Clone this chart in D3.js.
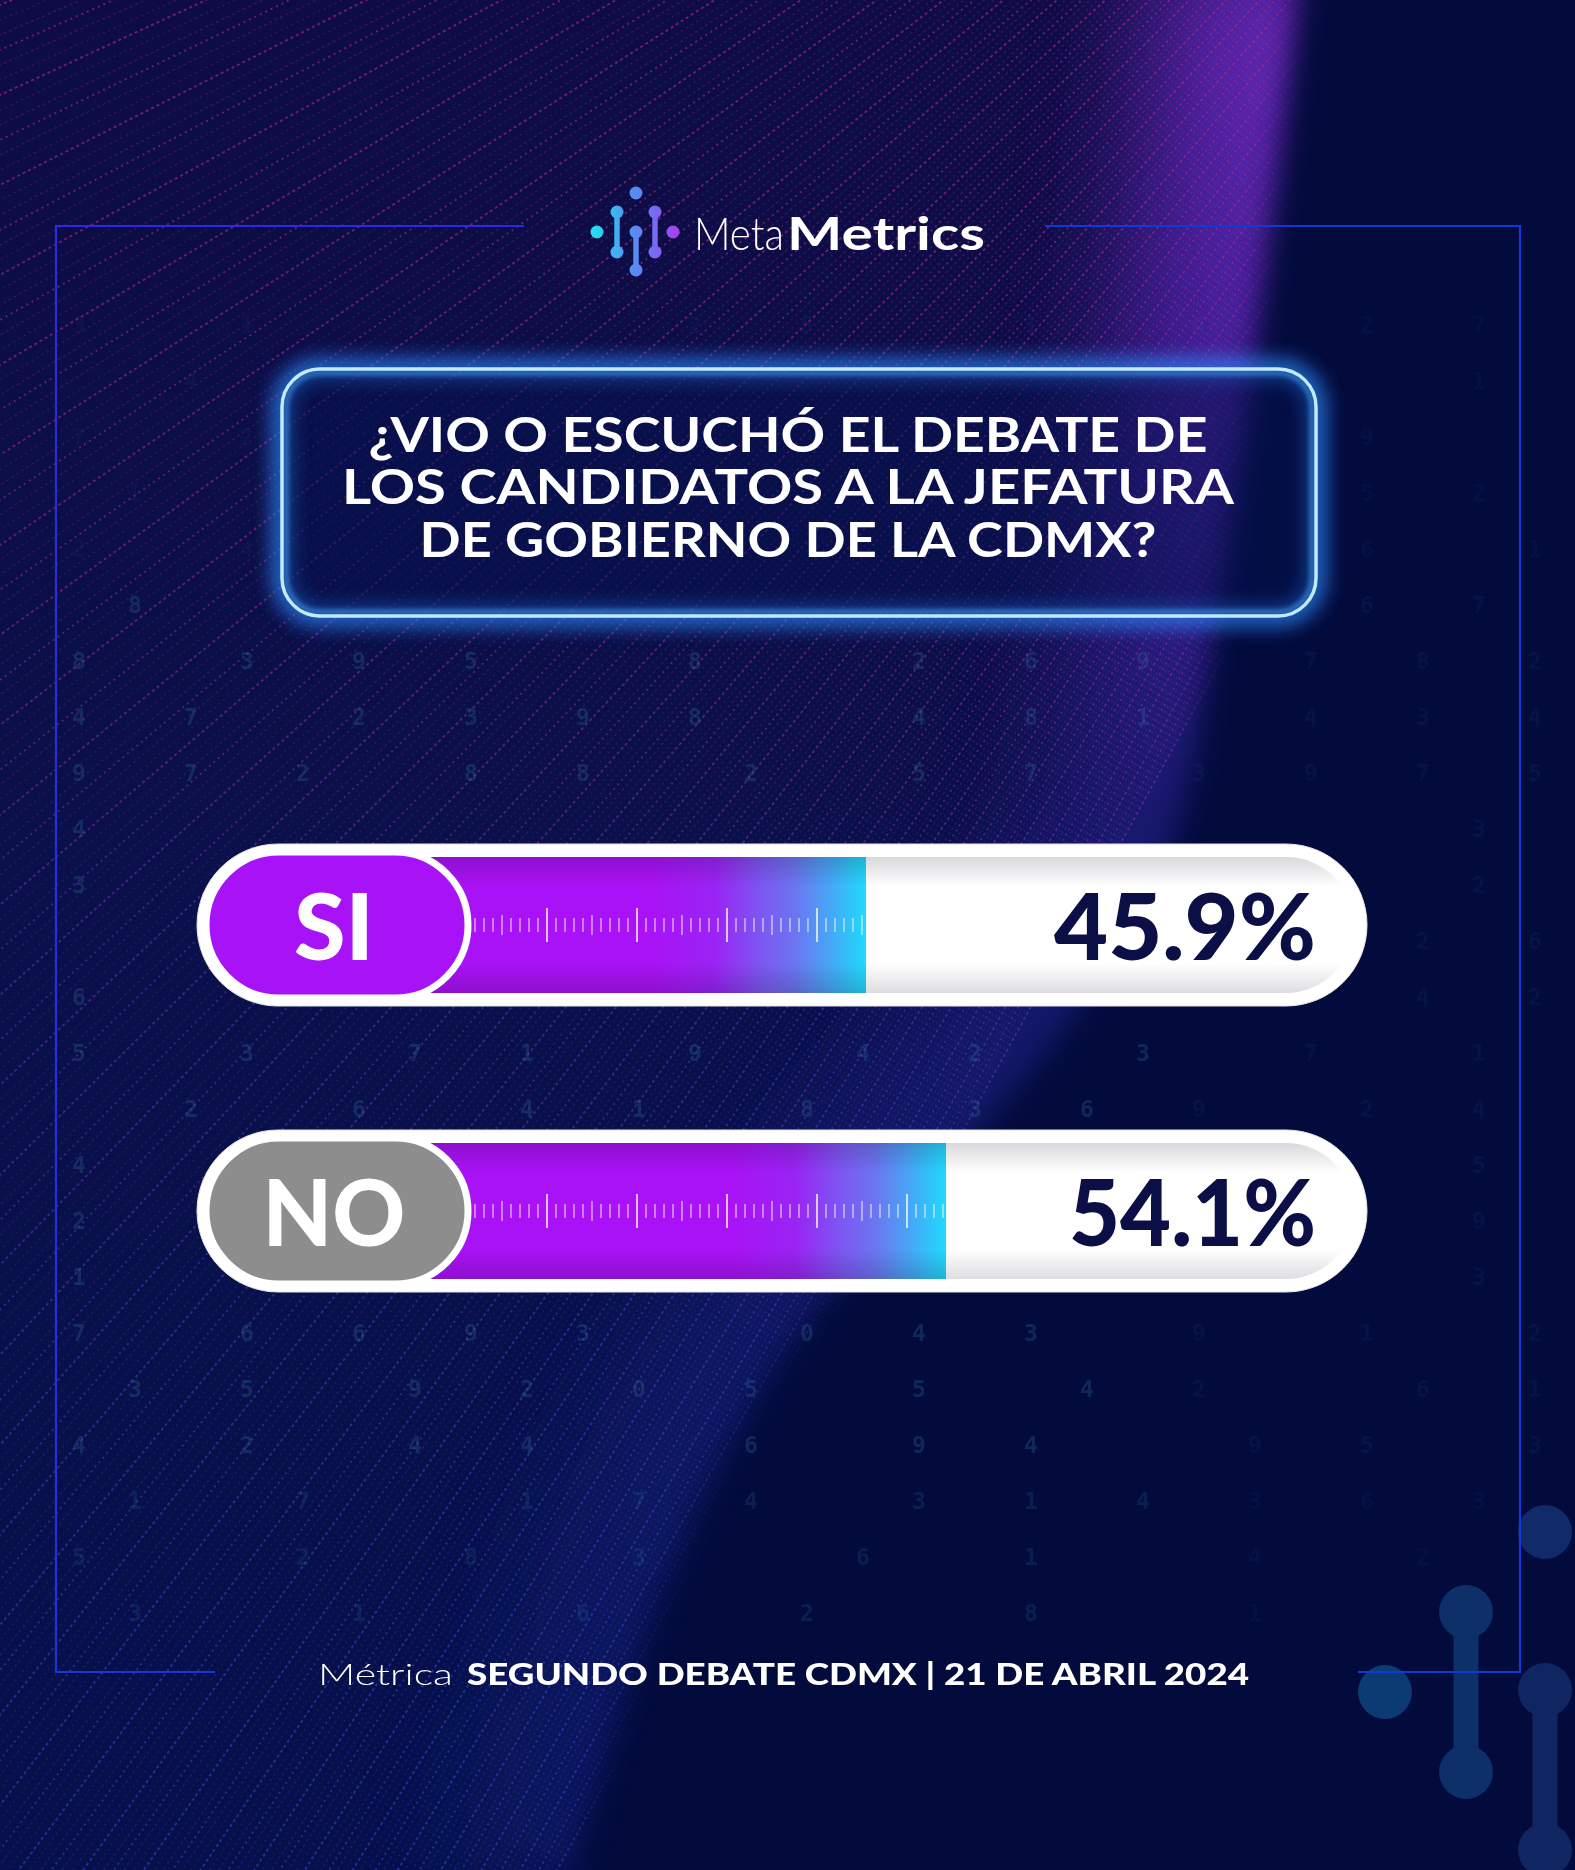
<!DOCTYPE html>
<html><head><meta charset="utf-8">
<script src="https://cdn.jsdelivr.net/npm/d3@7"></script>
<style>html,body{margin:0;padding:0;background:#030b3e;}svg{display:block}</style>
</head><body>
<svg id="c" width="1575" height="1870"></svg>
<script>
// ---------------- DATA ----------------
const categories = ["SI", "NO"];
const values = [45.9, 54.1];
const valueLabels = ["45.9%", "54.1%"];
const titleLines = ["¿VIO O ESCUCHÓ EL DEBATE DE", "LOS CANDIDATOS A LA JEFATURA", "DE GOBIERNO DE LA CDMX?"];
const brandLight = "Meta", brandBold = "Metrics";
const footerLight = "Métrica", footerBold = "SEGUNDO DEBATE CDMX | 21 DE ABRIL 2024";
const bgDigits = [
  " 3  1  7    2 5   1  4  2 7 ",
  "   4   2  9   1    6 3    1 ",
  " 7  2    5 1   8 2   4  9   ",
  "  1   6  3    2  4   1  5 2 ",
  " 2  4  7 8  3   1  5    6  1",
  "  8   7  9  6  9   4  8 6 7 ",
  " 8  3 9 5   8   2 6 9  7 8 2",
  " 4 7  2 3 9 8   4 8 1  4 3 4",
  " 9 7 2  8 8  2  5 7  3 9 7 5",
  " 4   3 9  4 2  8  5  1  4 3 ",
  " 3 2 8  6  7 4  9 1   5 3 2 ",
  "   5 4  7 3  7   2 5 5 2 2 6",
  " 6 8 8 4   9 2 2 7 6 4 9 4 2",
  " 5  3  7 1  9  4 2  3  7  1 ",
  "   2  6  4 1  8  3 6 9  2 4 ",
  " 4 5   1 6  3 8 7 4  1  3 5 ",
  " 2  3 3 6  3  7 9 5 8 2 0 9 ",
  " 1 6  5 1 7  8 3 6 8 3 9  3 ",
  " 7  6 6 9 3   0 4 3  9  1  2",
  "  3 5  9 2 0 5  5  4 2   6 1",
  " 4  2  4 4   6  9 4   9 5  3",
  "  1  7   1 7 4  3 1 4 3 6 3 ",
  " 5   2  8  3   6  1   4  2  ",
  "  3   1   6   2   8   1   4 "
];

// ---------------- SETUP ----------------
const W = 1575, H = 1870;
const svg = d3.select("#c");
const defs = svg.append("defs");
const FONT = "Lato, 'Open Sans', 'DejaVu Sans', sans-serif";

function linGrad(id, x1, y1, x2, y2, stops, units) {
  const g = defs.append("linearGradient").attr("id", id)
    .attr("x1", x1).attr("y1", y1).attr("x2", x2).attr("y2", y2);
  if (units) g.attr("gradientUnits", units);
  stops.forEach(s => g.append("stop").attr("offset", s[0]).attr("stop-color", s[1]).attr("stop-opacity", s[2] == null ? 1 : s[2]));
  return g;
}
linGrad("bgLeft", 0, 0, 0, 1, [[0, "#0d0c46"], [0.45, "#0a1049"], [1, "#07104b"]]);
linGrad("streak", 0, 0, 0, H, [[0, "#c0267f"], [0.3, "#a02496"], [0.55, "#5a2fb8"], [1, "#2a48d0"]], "userSpaceOnUse");
linGrad("edgeGlow", 0, 0, 0, H, [[0, "#8c35f0", 0.95], [0.22, "#6b2ee0", 0.75], [0.42, "#4233d4", 0.4], [0.7, "#2a3ad0", 0.26], [1, "#1e3ccf", 0.2]], "userSpaceOnUse");
linGrad("track", 0, 0, 0, 1, [[0, "#d9d9dd"], [0.22, "#ffffff"], [0.78, "#ffffff"], [1, "#dedee2"]]);
linGrad("barShade", 0, 0, 0, 1, [[0, "#000", 0.16], [0.22, "#000", 0], [0.78, "#000", 0], [1, "#000", 0.16]]);
linGrad("icon", 590, 0, 680, 0, [[0, "#22e3f2"], [0.45, "#4f93f2"], [0.75, "#7c66f1"], [1, "#a93cf0"]], "userSpaceOnUse");
linGrad("frameL", 0, 225, 0, 1672, [[0, "#2a2be0"], [1, "#1b36d8"]], "userSpaceOnUse");

const fBlur = defs.append("filter").attr("id", "blur40").attr("x", "-50%").attr("y", "-50%").attr("width", "200%").attr("height", "200%");
fBlur.append("feGaussianBlur").attr("stdDeviation", 60);
const fGlow = defs.append("filter").attr("id", "glow").attr("x", "-20%").attr("y", "-40%").attr("width", "140%").attr("height", "180%");
fGlow.append("feGaussianBlur").attr("stdDeviation", 10);
const fSoft = defs.append("filter").attr("id", "soft").attr("x", "-20%").attr("y", "-40%").attr("width", "140%").attr("height", "180%");
fSoft.append("feGaussianBlur").attr("stdDeviation", 2.2);
const fMask = defs.append("filter").attr("id", "maskBlur").attr("x", "-10%").attr("y", "-10%").attr("width", "120%").attr("height", "120%");
fMask.append("feGaussianBlur").attr("stdDeviation", 14);

// ---------------- BACKGROUND ----------------
svg.append("rect").attr("width", W).attr("height", H).attr("fill", "#030b3d");
const wavePath = "M-40,-40 L1300,-40 L1298,0 C1268,250 1238,500 1190,780 C1140,1000 915,1190 812,1315 C712,1440 630,1650 575,1870 L560,1910 L-40,1910 Z";
const mask = defs.append("mask").attr("id", "wave").attr("maskUnits", "userSpaceOnUse")
  .attr("x", 0).attr("y", 0).attr("width", W).attr("height", H);
mask.append("path").attr("d", wavePath).attr("fill", "#fff").attr("filter", "url(#maskBlur)");
const bg = svg.append("g").attr("mask", "url(#wave)");
bg.append("rect").attr("width", W).attr("height", H).attr("fill", "url(#bgLeft)");
bg.append("path")
  .attr("d", "M1300,-60 C1268,250 1238,500 1190,780 C1140,1000 915,1190 812,1315 C712,1440 630,1650 575,1900")
  .attr("fill", "none").attr("stroke", "url(#edgeGlow)").attr("stroke-width", 260)
  .attr("opacity", 0.7).attr("filter", "url(#blur40)");
// streak rays (decorative texture)
const F = [2050, -850];
const rays = d3.range(-400, 2900, 15);
bg.append("g").selectAll("path").data(rays).join("path")
  .attr("d", y0 => {
    const sx = 0 - F[0], sy = y0 - F[1];
    const k = 1.05;
    return `M${F[0]},${F[1]} L${F[0] + sx * k},${F[1] + sy * k}`;
  })
  .attr("stroke", "url(#streak)").attr("stroke-width", (d, i) => i % 3 === 0 ? 1.9 : 1.3)
  .attr("stroke-dasharray", (d, i) => i % 2 ? "3 3" : "2 4")
  .attr("opacity", (d, i) => i % 3 === 0 ? 0.6 : 0.3)
  .attr("fill", "none");

// faint digits
const digitsG = svg.append("g").attr("font-family", "'DejaVu Sans Mono', monospace").attr("font-size", 23).attr("font-weight", "bold");
const barCY = [925, 1211];
function blocked(x, y) {
  if (x > 262 && x < 1340 && y > 350 && y < 640) return true;
  if (x > 560 && x < 1000 && y > 170 && y < 290) return true;
  for (const cy of barCY) if (x > 180 && x < 1385 && y > cy - 98 && y < cy + 98) return true;
  if (x > 290 && x < 1270 && y > 1645 && y < 1705) return true;
  if (Math.abs(x - 56) < 14 || Math.abs(x - 1520) < 14) return true;
  return false;
}
const digitCells = [];
bgDigits.forEach((row, r) => {
  const y = 324 + 56 * r;
  for (let c = 0; c < row.length; c++) {
    const ch = row[c];
    if (ch === " ") continue;
    const x = 23 + 56 * c;
    if (blocked(x, y)) continue;
    let op = (y < 600) ? 0.05 : (x < 1150 ? 0.22 : 0.07);
    if (y > 1450) op *= 0.7;
    digitCells.push({ ch, x, y, op });
  }
});
digitsG.selectAll("text").data(digitCells).join("text")
  .attr("x", d => d.x).attr("y", d => d.y + 9).attr("text-anchor", "middle")
  .attr("fill", "#3f8fb8").attr("opacity", d => d.op).text(d => d.ch);

// bottom-right decorative shapes
const deco = svg.append("g");
deco.append("circle").attr("cx", 1545).attr("cy", 1532).attr("r", 27).attr("fill", "#112a6a");
deco.append("circle").attr("cx", 1385).attr("cy", 1692).attr("r", 27).attr("fill", "#0b3b72");
[[1466, 1612, 1772, "#0d2f6a"], [1545, 1690, 1850, "#102662"]].forEach(([x, y1, y2, col]) => {
  deco.append("line").attr("x1", x).attr("x2", x).attr("y1", y1).attr("y2", y2).attr("stroke", col).attr("stroke-width", 25);
  deco.append("circle").attr("cx", x).attr("cy", y1).attr("r", 27).attr("fill", col);
  deco.append("circle").attr("cx", x).attr("cy", y2).attr("r", 27).attr("fill", col);
});

// frame
const frame = svg.append("g").attr("fill", "none").attr("stroke-width", 2.2);
frame.append("path").attr("d", "M524,226 L56,226 L56,1672 L215,1672").attr("stroke", "url(#frameL)");
frame.append("path").attr("d", "M1045,226 L1520,226 L1520,1672 L1358,1672").attr("stroke", "#0f3ad6");

// ---------------- LOGO ----------------
const logo = svg.append("g");
const ic = logo.append("g").attr("fill", "url(#icon)").attr("stroke", "url(#icon)");
ic.append("circle").attr("cx", 597).attr("cy", 232).attr("r", 6.5).attr("stroke", "none");
ic.append("circle").attr("cx", 673).attr("cy", 232).attr("r", 6.5).attr("stroke", "none");
ic.append("circle").attr("cx", 636).attr("cy", 193).attr("r", 6.5).attr("stroke", "none");
[[617, 212, 252], [636, 232, 270], [655, 212, 252]].forEach(([x, a, b]) => {
  ic.append("line").attr("x1", x).attr("x2", x).attr("y1", a).attr("y2", b).attr("stroke-width", 5.5);
  ic.append("circle").attr("cx", x).attr("cy", a).attr("r", 6.5).attr("stroke", "none");
  ic.append("circle").attr("cx", x).attr("cy", b).attr("r", 6.5).attr("stroke", "none");
});
logo.append("text").attr("x", 694).attr("y", 250).attr("font-family", FONT).attr("font-weight", 300)
  .attr("font-size", 46).attr("fill", "#ffffff").attr("textLength", 90).attr("lengthAdjust", "spacingAndGlyphs").text(brandLight);
logo.append("text").attr("x", 787).attr("y", 250).attr("font-family", FONT).attr("font-weight", 700)
  .attr("font-size", 46).attr("fill", "#ffffff").attr("textLength", 198).attr("lengthAdjust", "spacingAndGlyphs").text(brandBold);

// ---------------- TITLE BOX ----------------
const box = { x: 282, y: 369, w: 1034, h: 247, r: 38 };
const tb = svg.append("g");
tb.append("rect").attr("x", box.x).attr("y", box.y).attr("width", box.w).attr("height", box.h).attr("rx", box.r)
  .attr("fill", "none").attr("stroke", "#2f8dff").attr("stroke-width", 18).attr("opacity", 0.85).attr("filter", "url(#glow)");
tb.append("rect").attr("x", box.x).attr("y", box.y).attr("width", box.w).attr("height", box.h).attr("rx", box.r)
  .attr("fill", "#04124e").attr("fill-opacity", 0.5);
tb.append("rect").attr("x", box.x + 4).attr("y", box.y + 4).attr("width", box.w - 8).attr("height", box.h - 8).attr("rx", box.r - 4)
  .attr("fill", "none").attr("stroke", "#4aa8ff").attr("stroke-width", 6).attr("opacity", 0.5).attr("filter", "url(#soft)");
tb.append("rect").attr("x", box.x).attr("y", box.y).attr("width", box.w).attr("height", box.h).attr("rx", box.r)
  .attr("fill", "none").attr("stroke", "#bfeaff").attr("stroke-width", 3.5);

const titleLen = [839, 892, 737], titleBase = [452, 504, 557], titleCX = 788;
tb.selectAll("text.t").data(titleLines).join("text").attr("class", "t")
  .attr("x", (d, i) => titleCX - titleLen[i] / 2).attr("y", (d, i) => titleBase[i])
  .attr("textLength", (d, i) => titleLen[i]).attr("lengthAdjust", "spacingAndGlyphs")
  .attr("font-family", FONT).attr("font-weight", 700).attr("font-size", 47).attr("fill", "#ffffff")
  .text(d => d);

// ---------------- BARS ----------------
const x = d3.scaleLinear().domain([0, 100]).range([418, 1394]);
const labelFill = { SI: "#a713f6", NO: "#8d8d8d" };
const labelLen = { SI: 80, NO: 143 };
const valLen = [262, 247];
const rows = categories.map((c, i) => ({ c, v: values[i], lab: valueLabels[i], cy: barCY[i], i }));

rows.forEach(d => {
  const g = svg.append("g");
  const cy = d.cy, end = x(d.v);
  g.append("rect").attr("x", 197).attr("y", cy - 81).attr("width", 1170).attr("height", 162).attr("rx", 81)
    .attr("fill", "#ffffff").attr("stroke", "#e6e6ec").attr("stroke-width", 1);
  g.append("rect").attr("x", 400).attr("y", cy - 68).attr("width", 954).attr("height", 136).attr("rx", 68)
    .attr("fill", "url(#track)");
  const gid = "bar" + d.i;
  linGrad(gid, end - 215, 0, end, 0, [[0, "#a912f6"], [0.3, "#9a24f4"], [0.5, "#7d55f2"], [0.68, "#6a78f1"], [1, "#1fdafd"]], "userSpaceOnUse");
  g.append("rect").attr("x", 330).attr("y", cy - 68).attr("width", end - 330).attr("height", 136).attr("fill", `url(#${gid})`);
  g.append("rect").attr("x", 330).attr("y", cy - 68).attr("width", end - 330).attr("height", 136).attr("fill", "url(#barShade)");
  const ticks = d3.range(-8, 200).map(k => ({ k, px: 547 + 9 * k })).filter(t => t.px < end - 3);
  g.append("g").selectAll("line").data(ticks).join("line")
    .attr("x1", t => t.px).attr("x2", t => t.px)
    .attr("y1", t => cy - (t.k % 10 === 0 ? 17 : t.k % 5 === 0 ? 10 : 7))
    .attr("y2", t => cy + (t.k % 10 === 0 ? 17 : t.k % 5 === 0 ? 10 : 7))
    .attr("stroke", "#ffffff").attr("stroke-width", t => t.k % 10 === 0 ? 1.6 : 1.3)
    .attr("opacity", t => t.k % 10 === 0 ? 0.9 : 0.7);
  g.append("rect").attr("x", 206).attr("y", cy - 73).attr("width", 262).attr("height", 146).attr("rx", 73)
    .attr("fill", labelFill[d.c]).attr("stroke", "#ffffff").attr("stroke-width", 7);
  g.append("text").attr("x", 334 - labelLen[d.c] / 2).attr("y", cy + 35)
    .attr("textLength", labelLen[d.c]).attr("lengthAdjust", "spacingAndGlyphs")
    .attr("font-family", FONT).attr("font-weight", 900).attr("font-size", 91).attr("fill", "#ffffff").text(d.c);
  g.append("text").attr("x", 1316 - valLen[d.i]).attr("y", cy + 35)
    .attr("textLength", valLen[d.i]).attr("lengthAdjust", "spacingAndGlyphs")
    .attr("font-family", FONT).attr("font-weight", 900).attr("font-size", 91).attr("fill", "#0b0f45").text(d.lab);
});

// ---------------- FOOTER ----------------
svg.append("text").attr("x", 318).attr("y", 1685).attr("textLength", 135).attr("lengthAdjust", "spacingAndGlyphs")
  .attr("font-family", FONT).attr("font-weight", 300).attr("font-size", 30).attr("fill", "#ffffff").text(footerLight);
svg.append("text").attr("x", 467).attr("y", 1685).attr("textLength", 782).attr("lengthAdjust", "spacingAndGlyphs")
  .attr("font-family", FONT).attr("font-weight", 900).attr("font-size", 30).attr("fill", "#ffffff").text(footerBold);
</script>
</body></html>
